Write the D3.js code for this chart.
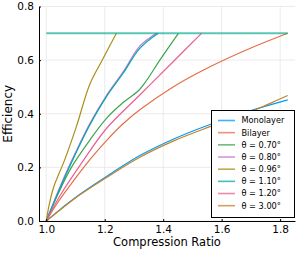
<!DOCTYPE html>
<html>
<head>
<meta charset="utf-8">
<script src="https://cdn.jsdelivr.net/npm/d3@7"></script>
<style>
  body { margin: 0; background: #fff; }
  svg { display: block; font-family: "DejaVu Sans", sans-serif; }
</style>
</head>
<body>
<div id="chart"></div>
<script>
// values, [compression ratio, efficiency]
const monolayer = [[1,0],[1.05,0.045],[1.10,0.088],[1.206,0.166],[1.32,0.244],[1.434,0.305],[1.56,0.36],[1.70,0.412],[1.826,0.452]]
const bilayer = [[1,0],[1.04,0.07],[1.10,0.16],[1.15,0.23],[1.206,0.30],[1.26,0.36],[1.32,0.415],[1.434,0.50],[1.56,0.575],[1.70,0.645],[1.826,0.70]]
const theta070 = [[1,0],[1.04,0.10],[1.086,0.20],[1.149,0.302],[1.206,0.383],[1.263,0.442],[1.314,0.485],[1.343,0.524],[1.389,0.601],[1.452,0.70]]
const theta080 = [[1,0],[1.05,0.135],[1.10,0.255],[1.15,0.365],[1.206,0.468],[1.263,0.556],[1.32,0.652],[1.377,0.70]]
const theta096 = [[1,0],[1.01,0.06],[1.025,0.125],[1.063,0.228],[1.103,0.352],[1.149,0.51],[1.189,0.595],[1.240,0.70]]
const theta110 = [[1,0],[1.05,0.13],[1.10,0.25],[1.15,0.36],[1.206,0.464],[1.263,0.551],[1.32,0.644],[1.383,0.70]]
const theta120 = [[1,0],[1.05,0.10],[1.12,0.215],[1.206,0.345],[1.32,0.47],[1.434,0.594],[1.531,0.70]]
const theta300 = [[1,0],[1.05,0.044],[1.10,0.086],[1.206,0.162],[1.32,0.238],[1.434,0.298],[1.56,0.352],[1.70,0.408],[1.76,0.436],[1.826,0.468]]
const cap = 0.7
const names = ["Monolayer","Bilayer","θ = 0.70°","θ = 0.80°","θ = 0.96°","θ = 1.10°","θ = 1.20°","θ = 3.00°"]
const colors = ["#009AFA","#E36F47","#3EA44E","#C371D2","#AC8E18","#00AAAE","#ED5E93","#C68225"]
const xTicks = [1.0,1.2,1.4,1.6,1.8]
const yTicks = [0,0.2,0.4,0.6,0.8]

const series = [monolayer,bilayer,theta070,theta080,theta096,theta110,theta120,theta300]

const W = 299, H = 254
const mLeft = 39, mRight = 295, mTop = 6.5, mBottom = 221

const svg = d3.select("#chart").append("svg")
  .attr("width", W)
  .attr("height", H)

const pad = (1.826 - 1) * 0.03
const x = d3.scaleLinear().domain([1 - pad, 1.826 + pad]).range([mLeft, mRight])
const y = d3.scaleLinear().domain([0, 0.8]).range([mBottom, mTop])

// grid
svg.append("g").selectAll("line").data(xTicks).enter().append("line")
  .attr("x1", d => x(d)).attr("x2", d => x(d))
  .attr("y1", mTop).attr("y2", mBottom)
  .attr("stroke", "#e6e6e6").attr("stroke-width", 0.8)
svg.append("g").selectAll("line").data(yTicks).enter().append("line")
  .attr("x1", mLeft).attr("x2", mRight)
  .attr("y1", d => y(d)).attr("y2", d => y(d))
  .attr("stroke", "#e6e6e6").attr("stroke-width", 0.8)

// curves
const line = d3.line().x(d => x(d[0])).y(d => y(d[1])).curve(d3.curveCatmullRom.alpha(0.5))
svg.append("g").selectAll("path").data(series).enter().append("path")
  .attr("d", line)
  .attr("fill", "none")
  .attr("stroke", (d, i) => colors[i])
  .attr("stroke-width", 1.2)

svg.append("line")
  .attr("x1", x(1)).attr("x2", x(1.826))
  .attr("y1", y(cap)).attr("y2", y(cap))
  .attr("stroke", "#00A98D").attr("stroke-width", 2).attr("stroke-opacity", 0.65)

// axes
const xAxis = d3.axisBottom(x).tickValues(xTicks).tickSizeInner(-2).tickSizeOuter(0).tickPadding(5).tickFormat(d3.format(".1f"))
const yAxis = d3.axisLeft(y).tickValues(yTicks).tickSizeInner(-2).tickSizeOuter(0).tickPadding(5).tickFormat(d3.format(".1f"))

svg.append("g")
  .attr("transform", "translate(0," + mBottom + ")")
  .call(xAxis)
  .call(g => g.select(".domain").attr("stroke", "#000"))
  .selectAll("text").attr("font-size", 10.5).attr("fill", "#000").attr("font-family", "DejaVu Sans")

svg.append("g")
  .attr("transform", "translate(" + mLeft + ",0)")
  .call(yAxis)
  .call(g => g.select(".domain").attr("stroke", "#000"))
  .selectAll("text").attr("font-size", 10.5).attr("fill", "#000").attr("font-family", "DejaVu Sans")

svg.append("text")
  .attr("x", (mLeft + mRight) / 2)
  .attr("y", 246)
  .attr("text-anchor", "middle")
  .attr("font-size", 11.5)
  .text("Compression Ratio")

svg.append("text")
  .attr("transform", "translate(12," + (mTop + mBottom) / 2 + ") rotate(-90)")
  .attr("text-anchor", "middle")
  .attr("font-size", 12)
  .text("Efficiency")

// legend
const lg = svg.append("g")
lg.append("rect")
  .attr("x", 211.5).attr("y", 110.5)
  .attr("width", 83).attr("height", 107)
  .attr("fill", "#fff").attr("stroke", "#000").attr("stroke-width", 1)

const row = lg.selectAll(".row").data(names).enter().append("g")
  .attr("transform", (d, i) => "translate(0," + (120.5 + i * 12.17) + ")")
row.append("line")
  .attr("x1", 218).attr("x2", 235)
  .attr("stroke", (d, i) => colors[i])
  .attr("stroke-width", 1.6).attr("stroke-opacity", 0.75)
row.append("text")
  .attr("x", 241.5).attr("dy", "0.35em")
  .attr("font-size", 8.2)
  .text(d => d)
</script>
</body>
</html>
